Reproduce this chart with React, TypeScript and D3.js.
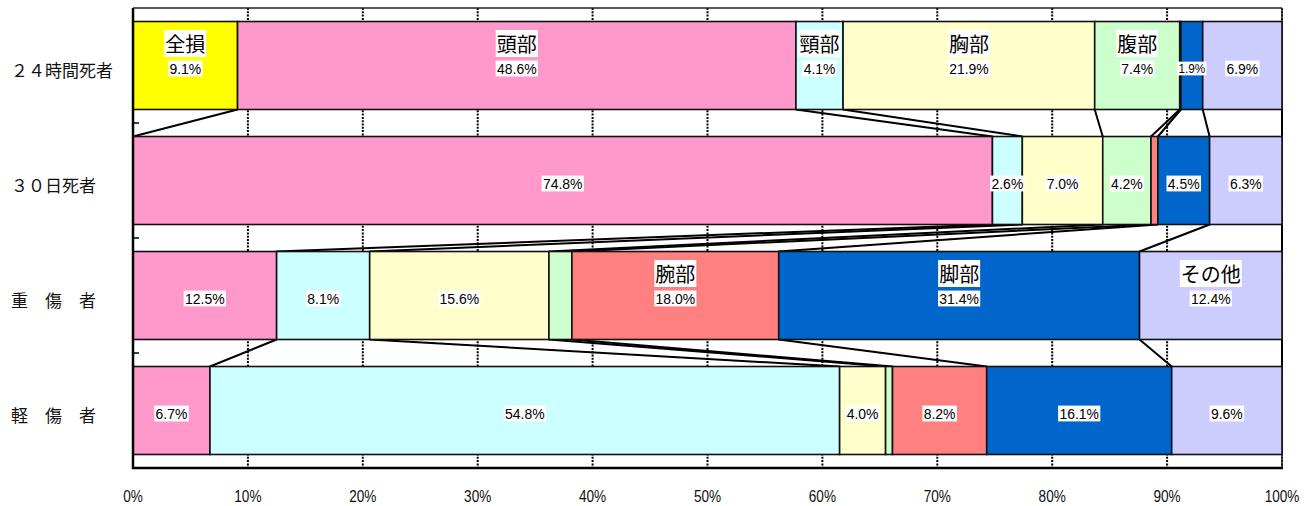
import React, { useEffect, useRef } from "react";
import * as d3 from "d3";

const categories = ["２４時間死者", "３０日死者", "重　傷　者", "軽　傷　者"];
const parts = ["全損", "頭部", "頸部", "胸部", "腹部", "腕部", "脚部", "その他"];
const partColors = ["#FFFF00", "#FF99CC", "#CCFFFF", "#FFFFCC", "#CCFFCC", "#FF8080", "#0066CC", "#CCCCFF"];

const row24h = [9.1, 48.6, 4.1, 21.9, 7.4, 0.1, 1.9, 6.9];
const row30d = [0, 74.8, 2.6, 7.0, 4.2, 0.6, 4.5, 6.3];
const rowSerious = [0, 12.5, 8.1, 15.6, 2.0, 18.0, 31.4, 12.4];
const rowMinor = [0, 6.7, 54.8, 4.0, 0.6, 8.2, 16.1, 9.6];
const rows = [row24h, row30d, rowSerious, rowMinor];

// row index in which each part's name is printed
const nameRowOfPart = [0, 0, 0, 0, 0, 2, 2, 2];
// labels that are not printed: [row, part]
const hiddenLabels = [[2, 4]];
const xTicks = [0, 10, 20, 30, 40, 50, 60, 70, 80, 90, 100];

const W = 1315;
const H = 506;

export default function App() {
  const ref = useRef<SVGSVGElement>(null);

  useEffect(() => {
    const svg = d3.select(ref.current);
    svg.selectAll("*").remove();

    const left = 133, right = 1282, top = 8, bottom = 468;
    const x = d3.scaleLinear().domain([0, 100]).range([left, right]);
    const y = d3.scaleBand<string>().domain(categories).range([top, bottom]).paddingInner(0.235).paddingOuter(0.1175);
    const bw = y.bandwidth();

    const cum = rows.map((r) => {
      let s = 0;
      return r.map((v) => { const a = s; s += v; return [a, s]; });
    });

    // background
    svg.append("rect").attr("x", 0).attr("y", 0).attr("width", W).attr("height", H).attr("fill", "#fff");

    // dotted gridlines
    svg.append("g").selectAll("line").data(xTicks).join("line")
      .attr("x1", (d) => x(d)).attr("x2", (d) => x(d))
      .attr("y1", top).attr("y2", bottom)
      .attr("stroke", "#000").attr("stroke-width", 2).attr("stroke-dasharray", "2,1.3");

    // plot frame top/right
    svg.append("line").attr("x1", left).attr("x2", right).attr("y1", top).attr("y2", top).attr("stroke", "#222").attr("stroke-width", 1.5);
    svg.append("line").attr("x1", right).attr("x2", right).attr("y1", top).attr("y2", bottom).attr("stroke", "#222").attr("stroke-width", 1.5);

    // series lines
    const sl = svg.append("g");
    for (let i = 0; i < rows.length - 1; i++) {
      for (let k = 0; k < parts.length; k++) {
        sl.append("line")
          .attr("x1", x(cum[i][k][1])).attr("y1", (y(categories[i]) as number) + bw)
          .attr("x2", x(cum[i + 1][k][1])).attr("y2", y(categories[i + 1]) as number)
          .attr("stroke", "#000").attr("stroke-width", 2);
      }
    }

    // bars
    const bars = svg.append("g");
    rows.forEach((r, i) => {
      r.forEach((v, k) => {
        if (v <= 0) return;
        bars.append("rect")
          .attr("x", x(cum[i][k][0])).attr("y", y(categories[i]) as number)
          .attr("width", x(cum[i][k][1]) - x(cum[i][k][0])).attr("height", bw)
          .attr("fill", partColors[k]).attr("stroke", "#111").attr("stroke-width", 1.6);
      });
    });

    // axes
    svg.append("line").attr("x1", left).attr("x2", left).attr("y1", top).attr("y2", bottom + 1).attr("stroke", "#000").attr("stroke-width", 2.5);
    svg.append("line").attr("x1", left - 1).attr("x2", right + 1).attr("y1", bottom).attr("y2", bottom).attr("stroke", "#000").attr("stroke-width", 2.5);
    // category boundary ticks
    for (let k = 1; k < categories.length; k++) {
      const yy = top + (y.step()) * k;
      svg.append("line").attr("x1", left).attr("x2", left + 6).attr("y1", yy).attr("y2", yy).attr("stroke", "#000").attr("stroke-width", 1.5);
    }

    const labels = svg.append("g");
    function boxed(cx: number, cy: number, text: string, size: number, family: string, sx: number, padX: number, padY: number) {
      const g = labels.append("g").attr("transform", `translate(${cx},${cy}) scale(${sx},1)`);
      const rect = g.append("rect").attr("fill", "#fff");
      const t = g.append("text").attr("x", 0).attr("y", 0)
        .attr("text-anchor", "middle").attr("dominant-baseline", "central")
        .attr("font-family", family).attr("font-size", size).attr("fill", "#000").text(text);
      const bb = (t.node() as SVGTextElement).getBBox();
      rect.attr("x", bb.x - padX).attr("y", bb.y + padY).attr("width", bb.width + 2 * padX).attr("height", bb.height - 2 * padY);
    }

    const pctFont = "'Liberation Sans', Arial, sans-serif";
    const cjkFont = "'Noto Sans CJK JP', sans-serif";

    rows.forEach((r, i) => {
      const cy = (y(categories[i]) as number) + bw / 2;
      r.forEach((v, k) => {
        if (v < 1) return;
        if (hiddenLabels.some(([a, b]) => a === i && b === k)) return;
        const cx = (x(cum[i][k][0]) + x(cum[i][k][1])) / 2;
        const small = v < 2;
        boxed(cx, cy + 3, `${v.toFixed(1)}%`, small ? 13 : 15.5, pctFont, 0.9, 1.5, 0.5);
        if (nameRowOfPart[k] === i) {
          boxed(cx, cy - 22, parts[k], 20, cjkFont, 1, 1, 1);
        }
      });
    });

    // y labels
    svg.append("g").selectAll("text").data(categories).join("text")
      .attr("x", 11).attr("y", (d) => (y(d) as number) + bw / 2 + 3.5)
      .attr("dominant-baseline", "central")
      .attr("font-family", cjkFont).attr("font-size", 17).attr("fill", "#111")
      .text((d) => d);

    // x tick labels
    const tl = svg.append("g");
    xTicks.forEach((t) => {
      tl.append("text")
        .attr("transform", `translate(${x(t)},${495.5}) scale(0.8,1)`)
        .attr("text-anchor", "middle").attr("dominant-baseline", "central")
        .attr("font-family", pctFont).attr("font-size", 17).attr("fill", "#111")
        .text(`${t}%`);
    });
  }, []);

  return (
    <svg ref={ref} width={W} height={H} style={{ position: "absolute", left: 0, top: 0, display: "block" }} />
  );
}
